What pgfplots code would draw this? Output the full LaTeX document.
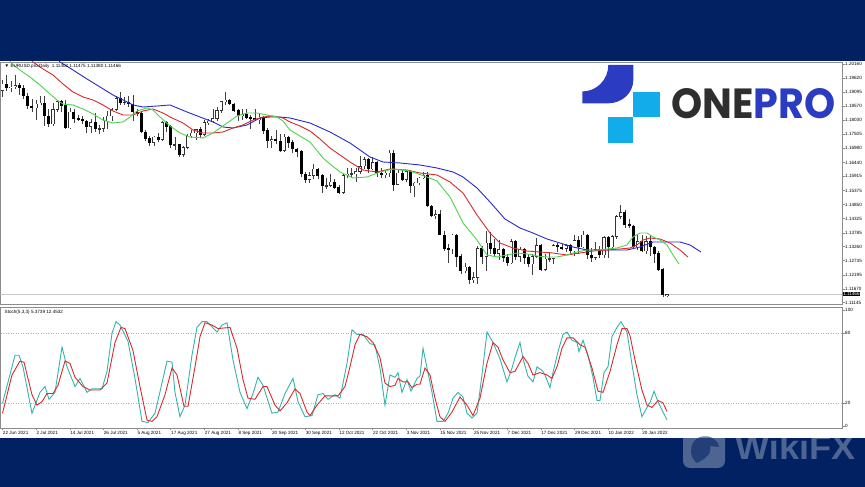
\documentclass[border=0pt]{standalone}
\usepackage{fontspec}
\setmainfont{Liberation Sans}
\newfontfamily\poppins{Poppins}
\usepackage{graphicx}
\usepackage{pgfplots}
\usepackage{pgfplotstable}
\pgfplotsset{compat=1.18}

\definecolor{navy}{HTML}{022162}
\definecolor{frame}{HTML}{8C8C8C}
\definecolor{maBlue}{HTML}{2A2ACC}
\definecolor{maRed}{HTML}{D92B2B}
\definecolor{maGreen}{HTML}{4CD44C}
\definecolor{stTeal}{HTML}{36B3AC}
\definecolor{oneBlue}{HTML}{2B3CC2}
\definecolor{oneCyan}{HTML}{12ACEB}
\definecolor{oneGray}{HTML}{2E2E2E}
\newcommand\tinyfont{\fontsize{4.6}{5}\selectfont}

\pgfplotstableread{
i o h l c
0 1.1915 1.1955 1.1890 1.1940
2 1.1925 1.1950 1.1910 1.1930
3 1.1930 1.1975 1.1920 1.1935
8 1.1850 1.1880 1.1805 1.1865
9 1.1865 1.1895 1.1860 1.1868
12 1.1790 1.1870 1.1780 1.1845
13 1.1845 1.1880 1.1835 1.1875
16 1.1775 1.1850 1.1770 1.1835
21 1.1780 1.1810 1.1755 1.1795
23 1.1770 1.1785 1.1750 1.1772
24 1.1772 1.1815 1.1760 1.1800
25 1.1800 1.1840 1.1770 1.1820
26 1.1820 1.1850 1.1800 1.1845
27 1.1845 1.1895 1.1840 1.1885
29 1.1870 1.1890 1.1860 1.1872
36 1.1720 1.1745 1.1705 1.1740
38 1.1730 1.1800 1.1725 1.1795
41 1.1710 1.1740 1.1690 1.1712
43 1.1675 1.1705 1.1665 1.1700
44 1.1700 1.1750 1.1695 1.1745
45 1.1745 1.1765 1.1735 1.1755
46 1.1755 1.1770 1.1730 1.1768
48 1.1750 1.1805 1.1745 1.1795
49 1.1795 1.1810 1.1785 1.1800
50 1.1800 1.1845 1.1795 1.1810
51 1.1810 1.1855 1.1800 1.1840
52 1.1840 1.1875 1.1830 1.1875
53 1.1875 1.1910 1.1860 1.1880
57 1.1820 1.1845 1.1805 1.1825
61 1.1805 1.1830 1.1790 1.1815
64 1.1725 1.1745 1.1700 1.1730
67 1.1690 1.1750 1.1685 1.1740
73 1.1580 1.1610 1.1565 1.1595
74 1.1595 1.1640 1.1580 1.1620
77 1.1555 1.1585 1.1545 1.1557
78 1.1557 1.1600 1.1550 1.1570
81 1.1530 1.1600 1.1525 1.1595
82 1.1595 1.1625 1.1585 1.1600
83 1.1600 1.1625 1.1590 1.1602
84 1.1602 1.1625 1.1570 1.1610
85 1.1610 1.1670 1.1600 1.1630
86 1.1630 1.1665 1.1620 1.1655
88 1.1620 1.1665 1.1615 1.1645
91 1.1600 1.1615 1.1585 1.1605
92 1.1605 1.1690 1.1590 1.1680
94 1.1560 1.1615 1.1560 1.1605
96 1.1580 1.1615 1.1570 1.1610
98 1.1555 1.1570 1.1515 1.1567
99 1.1567 1.1590 1.1560 1.1585
100 1.1585 1.1610 1.1580 1.1595
103 1.1445 1.1465 1.1430 1.1448
107 1.1318 1.1375 1.1300 1.1370
110 1.1235 1.1265 1.1225 1.1250
112 1.1200 1.1230 1.1190 1.1210
113 1.1210 1.1330 1.1185 1.1320
115 1.1290 1.1385 1.1235 1.1340
118 1.1300 1.1350 1.1275 1.1315
121 1.1265 1.1355 1.1260 1.1345
123 1.1290 1.1325 1.1270 1.1315
126 1.1260 1.1300 1.1220 1.1290
127 1.1290 1.1360 1.1285 1.1330
129 1.1240 1.1300 1.1235 1.1280
130 1.1280 1.1305 1.1270 1.1282
131 1.1282 1.1335 1.1260 1.1330
134 1.1320 1.1335 1.1305 1.1330
136 1.1310 1.1370 1.1290 1.1350
138 1.1325 1.1385 1.1320 1.1370
141 1.1285 1.1345 1.1275 1.1315
143 1.1295 1.1365 1.1285 1.1360
145 1.1325 1.1370 1.1315 1.1365
146 1.1365 1.1445 1.1355 1.1440
147 1.1440 1.1482 1.1430 1.1455
151 1.1325 1.1370 1.1315 1.1345
153 1.1310 1.1365 1.1300 1.1345
158 1.11402 1.11475 1.11380 1.11466
}\bull

\pgfplotstableread{
i o h l c
1 1.1940 1.1975 1.1915 1.1925
4 1.1935 1.1945 1.1900 1.1925
5 1.1925 1.1935 1.1885 1.1895
6 1.1895 1.1905 1.1845 1.1858
7 1.1858 1.1885 1.1835 1.1850
10 1.1868 1.1895 1.1780 1.1820
11 1.1820 1.1845 1.1780 1.1790
14 1.1875 1.1880 1.1835 1.1860
15 1.1860 1.1880 1.1770 1.1775
17 1.1835 1.1845 1.1795 1.1810
18 1.1810 1.1825 1.1800 1.1808
19 1.1808 1.1820 1.1790 1.1800
20 1.1800 1.1805 1.1755 1.1780
22 1.1795 1.1830 1.1760 1.1770
28 1.1885 1.1910 1.1860 1.1870
30 1.1872 1.1895 1.1855 1.1865
31 1.1865 1.1900 1.1800 1.1835
32 1.1835 1.1845 1.1820 1.1830
33 1.1830 1.1840 1.1755 1.1760
34 1.1760 1.1765 1.1725 1.1735
35 1.1735 1.1745 1.1705 1.1720
37 1.1740 1.1755 1.1720 1.1730
39 1.1795 1.1800 1.1760 1.1780
40 1.1780 1.1785 1.1700 1.1710
42 1.1712 1.1715 1.1665 1.1675
47 1.1768 1.1780 1.1735 1.1750
54 1.1880 1.1885 1.1860 1.1865
55 1.1865 1.1870 1.1835 1.1840
56 1.1840 1.1845 1.1800 1.1820
58 1.1825 1.1845 1.1810 1.1815
59 1.1815 1.1825 1.1770 1.1810
60 1.1810 1.1845 1.1800 1.1805
62 1.1815 1.1820 1.1750 1.1765
63 1.1765 1.1775 1.1700 1.1725
65 1.1730 1.1765 1.1715 1.1725
66 1.1725 1.1750 1.1685 1.1690
68 1.1740 1.1745 1.1700 1.1720
69 1.1720 1.1730 1.1680 1.1695
70 1.1695 1.1700 1.1665 1.1685
71 1.1685 1.1690 1.1590 1.1600
72 1.1600 1.1610 1.1565 1.1580
75 1.1620 1.1625 1.1580 1.1595
76 1.1595 1.1600 1.1530 1.1555
79 1.1570 1.1580 1.1545 1.1550
80 1.1550 1.1560 1.1525 1.1530
87 1.1655 1.1660 1.1605 1.1620
89 1.1645 1.1650 1.1590 1.1605
90 1.1605 1.1625 1.1585 1.1600
93 1.1680 1.1690 1.1535 1.1560
95 1.1605 1.1615 1.1575 1.1580
97 1.1610 1.1615 1.1530 1.1555
101 1.1595 1.1610 1.1475 1.1480
102 1.1480 1.1485 1.1440 1.1445
104 1.1448 1.1465 1.1370 1.1370
105 1.1370 1.1385 1.1310 1.1320
106 1.1320 1.1335 1.1265 1.1318
108 1.1370 1.1375 1.1250 1.1290
109 1.1290 1.1300 1.1225 1.1235
111 1.1250 1.1255 1.1185 1.1200
114 1.1320 1.1330 1.1260 1.1290
116 1.1340 1.1380 1.1300 1.1320
117 1.1320 1.1355 1.1290 1.1300
119 1.1315 1.1320 1.1270 1.1285
120 1.1285 1.1300 1.1255 1.1265
122 1.1345 1.1350 1.1275 1.1290
124 1.1315 1.1320 1.1260 1.1285
125 1.1285 1.1300 1.1250 1.1260
128 1.1330 1.1335 1.1235 1.1240
132 1.1330 1.1340 1.1305 1.1325
133 1.1325 1.1335 1.1315 1.1320
135 1.1330 1.1335 1.1300 1.1310
137 1.1350 1.1365 1.1300 1.1325
139 1.1370 1.1375 1.1280 1.1295
140 1.1295 1.1320 1.1270 1.1285
142 1.1315 1.1330 1.1285 1.1295
144 1.1360 1.1365 1.1285 1.1325
148 1.1455 1.1465 1.1395 1.1410
149 1.1410 1.1430 1.1395 1.1405
150 1.1405 1.1410 1.1320 1.1325
152 1.1345 1.1370 1.1305 1.1310
154 1.1345 1.1370 1.1290 1.1325
155 1.1325 1.1330 1.1265 1.1300
156 1.1300 1.1310 1.1235 1.1240
157 1.1240 1.1245 1.1135 1.1145
}\bear

\pgfplotsset{mt4/.style={
  scale only axis, width=841.5pt, xmin=-0.475, xmax=199.6,
  axis line style={draw=frame, line width=0.6pt},
  tick style={draw=frame, line width=0.5pt},
  tick align=outside, major tick length=2.5pt,
  ytick pos=right, scaled y ticks=false,
  yticklabel style={font=\tinyfont, anchor=west, inner sep=0.5pt},
  clip mode=individual},
  errs/.style={draw=none, mark=none, error bars/.cd, y dir=both, y explicit, error mark=none}}

\begin{document}
\begin{tikzpicture}
\useasboundingbox (0pt,0pt) rectangle (865pt,487pt);
\fill[white] (0pt,0pt) rectangle (865pt,487pt);
\fill[navy] (0pt,426pt) rectangle (865pt,487pt);
\fill[navy] (0pt,0pt) rectangle (865pt,49pt);

% ---------------- price panel ----------------
\begin{axis}[mt4, at={(0.5pt,183pt)}, anchor=south west, height=242pt,
  ymin=1.110976, ymax=1.202355, xtick=\empty,
  ytick={1.20160,1.19620,1.19095,1.18570,1.18030,1.17505,1.16980,1.16440,1.15915,1.15375,1.14850,1.14325,1.13785,1.13260,1.12735,1.12195,1.11670,1.11145},
  yticklabels={1.20160,1.19620,1.19095,1.18570,1.18030,1.17505,1.16980,1.16440,1.15915,1.15375,1.14850,1.14325,1.13785,1.13260,1.12735,1.12195,1.11670,1.11145}]

\addplot[draw=black!22, line width=0.5pt] coordinates {(-1,1.11466) (201,1.11466)};

% wicks
\addplot[errs, error bar style={draw=black!75, line width=0.55pt}]
  table[x=i, y expr=(\thisrow{h}+\thisrow{l})/2, y error expr=(\thisrow{h}-\thisrow{l})/2] {\bull};
\addplot[errs, error bar style={draw=black!75, line width=0.55pt}]
  table[x=i, y expr=(\thisrow{h}+\thisrow{l})/2, y error expr=(\thisrow{h}-\thisrow{l})/2] {\bear};
% bear bodies
\addplot[errs, error bar style={draw=black, line width=3pt}]
  table[x=i, y expr=(\thisrow{o}+\thisrow{c})/2, y error expr={abs(\thisrow{o}-\thisrow{c})/2+0.0001}] {\bear};
% bull bodies: outline then white interior
\addplot[errs, error bar style={draw=black!80, line width=3.1pt}]
  table[x=i, y expr=(\thisrow{o}+\thisrow{c})/2, y error expr={abs(\thisrow{o}-\thisrow{c})/2+0.0001}] {\bull};
\addplot[errs, error bar style={draw=white, line width=2.1pt}]
  table[x=i, y expr=(\thisrow{o}+\thisrow{c})/2, y error expr={max(abs(\thisrow{o}-\thisrow{c})/2-0.0001,0)}] {\bull};

% Alligator lines
\addplot[draw=maBlue, line width=0.9pt, mark=none] coordinates {
(12.48,1.20462) (13.67,1.20236) (16.76,1.19933) (20.09,1.19594) (23.18,1.19292) (26.27,1.18989) (28.65,1.18801) (31.03,1.18612) (33.40,1.18536) (36.73,1.18574) (39.82,1.18612) (43.87,1.18348) (46.96,1.18159) (50.05,1.17970) (52.43,1.17781) (54.80,1.17743) (58.13,1.17857) (61.22,1.18121) (63.60,1.18159) (65.98,1.18159) (68.35,1.18121) (73.11,1.17932) (77.86,1.17592) (82.62,1.17177) (87.37,1.16648) (90.47,1.16460) (94.51,1.16422) (99.26,1.16346) (103.30,1.16233) (107.11,1.16082) (109.49,1.15893) (112.82,1.15478) (115.91,1.14949) (119.47,1.14307) (123.04,1.13967) (126.13,1.13778) (129.46,1.13552) (132.55,1.13401) (135.64,1.13250) (138.97,1.13137) (142.06,1.13137) (145.15,1.13137) (148.48,1.13137) (151.57,1.13250) (154.66,1.13439) (157.99,1.13439) (161.08,1.13439) (163.46,1.13325) (166.07,1.13061)};
\addplot[draw=maRed, line width=0.9pt, mark=none] coordinates {
(6.06,1.20500) (7.25,1.20236) (9.63,1.19971) (12.01,1.19745) (14.38,1.19405) (16.76,1.19103) (19.14,1.18914) (21.52,1.18801) (23.89,1.18612) (26.27,1.18385) (28.65,1.18234) (31.03,1.18234) (33.40,1.18385) (35.78,1.18461) (38.16,1.18310) (39.83,1.18159) (42.91,1.17932) (45.29,1.17668) (47.67,1.17555) (50.05,1.17555) (52.43,1.17592) (54.80,1.17743) (57.18,1.17857) (59.56,1.18045) (61.94,1.18159) (64.31,1.18196) (66.69,1.18121) (68.35,1.17970) (70.73,1.17819) (73.11,1.17630) (75.49,1.17328) (77.86,1.16988) (80.24,1.16724) (82.62,1.16460) (85.71,1.16157) (89.04,1.16082) (92.13,1.16195) (96.17,1.16157) (99.26,1.16044) (103.30,1.15969) (106.40,1.15704) (109.49,1.15289) (112.82,1.14458) (115.91,1.13778) (118.28,1.13401) (121.37,1.13212) (124.70,1.13099) (127.79,1.13061) (130.88,1.13023) (134.21,1.12948) (137.31,1.13023) (140.40,1.13099) (143.72,1.13137) (146.81,1.13174) (149.19,1.13212) (150.85,1.13325) (152.28,1.13514) (153.94,1.13589) (156.32,1.13552) (158.70,1.13401) (161.08,1.13137) (162.98,1.12872)};
\addplot[draw=maGreen, line width=0.9pt, mark=none] coordinates {
(1.31,1.20387) (2.26,1.20160) (4.16,1.19933) (6.54,1.19669) (8.92,1.19367) (11.29,1.19027) (12.96,1.18801) (14.38,1.18650) (16.76,1.18612) (19.14,1.18461) (21.52,1.18272) (23.89,1.18045) (26.27,1.17932) (28.65,1.17970) (30.31,1.18159) (31.98,1.18385) (34.36,1.18499) (35.78,1.18423) (37.45,1.18159) (39.83,1.17819) (42.20,1.17555) (44.58,1.17403) (47.67,1.17366) (50.05,1.17555) (53.38,1.17932) (55.76,1.18196) (58.13,1.18310) (60.51,1.18310) (62.89,1.18234) (65.26,1.18159) (66.69,1.18008) (68.35,1.17668) (70.73,1.17441) (73.11,1.17215) (76.20,1.16611) (77.86,1.16384) (80.24,1.16082) (83.33,1.15856) (86.66,1.15893) (89.75,1.16082) (92.84,1.16195) (96.89,1.16120) (100.93,1.15893) (103.30,1.15742) (106.40,1.15138) (109.49,1.14156) (112.82,1.13514) (115.19,1.12948) (117.57,1.12872) (119.95,1.12948) (122.33,1.13023) (124.70,1.12986) (127.08,1.12910) (129.46,1.12872) (131.84,1.12872) (134.21,1.12948) (136.59,1.13061) (138.97,1.13137) (141.35,1.13137) (143.72,1.13174) (146.10,1.13212) (148.48,1.13325) (149.90,1.13627) (151.57,1.13778) (153.23,1.13778) (154.66,1.13627) (156.32,1.13514) (157.99,1.13325) (159.42,1.12948) (160.84,1.12608)};

\node[anchor=north west, font=\tinyfont, inner sep=0pt, xshift=4pt, yshift=-2pt] at (rel axis cs:0,1) {▼ EURUSD.pro,Daily\ \ 1.11402 1.11475 1.11380 1.11466};
\node[anchor=west, fill=black, text=white, font=\tinyfont, inner sep=0.6pt, xshift=0.5pt] at (axis cs:199.6,1.11466) {1.11466};
\end{axis}

% ---------------- stochastic panel ----------------
\begin{axis}[mt4, at={(0.5pt,59pt)}, anchor=south west, height=121pt,
  ymin=-1.72, ymax=102.6,
  ytick={0,20,80,100}, yticklabels={0,20,80,100},
  xtick={0,8,...,152}, xtick pos=left,
  xticklabels={22 Jun 2021,2 Jul 2021,14 Jul 2021,26 Jul 2021,5 Aug 2021,17 Aug 2021,27 Aug 2021,8 Sep 2021,20 Sep 2021,30 Sep 2021,12 Oct 2021,22 Oct 2021,3 Nov 2021,15 Nov 2021,25 Nov 2021,7 Dec 2021,17 Dec 2021,29 Dec 2021,10 Jan 2022,20 Jan 2022},
  xticklabel style={font=\tinyfont, anchor=north west, inner sep=0pt, xshift=0.3pt, yshift=-0.6pt}]
\addplot[draw=black!30, dotted, line width=0.5pt] coordinates {(-1,20) (201,20)};
\addplot[draw=black!30, dotted, line width=0.5pt] coordinates {(-1,80) (201,80)};
\addplot[draw=stTeal, line width=0.9pt, mark=none] coordinates {
(0,19.5) (2.97,61) (3.92,61) (4.87,51) (7.01,11) (8.92,29) (10.10,34) (11.06,23) (12.48,29) (14.15,68) (15.34,51) (17.24,34) (18.43,41) (20.09,29) (21.28,32) (23.66,32) (24.85,47) (26.04,80) (26.99,90) (27.94,87) (29.84,73) (31.50,41) (33.17,4) (34.59,3) (36.26,11) (37.92,37) (39.11,56) (40.30,55) (41.01,29) (42.20,8) (43.39,18) (45.05,61) (46.24,85) (47.43,90) (48.62,90) (50.99,81) (52.19,87) (53.38,89) (54.80,57) (56.47,29) (58.13,15) (59.56,28) (60.75,42) (61.94,35) (64.07,11) (65.50,12) (67.17,28) (69.07,41) (70.26,21) (71.92,8) (73.59,9) (75.01,27) (76.20,28) (77.39,23) (79.05,27) (80.24,24) (81.91,54) (83.10,83) (84.29,79) (85.71,79) (87.37,71) (88.56,70) (89.75,50) (90.94,18) (92.13,44) (93.32,42) (94.03,46) (94.98,29) (96.17,40) (97.12,30) (98.55,41) (99.26,43) (99.98,67) (101.16,46) (102.12,29) (103.30,4) (104.73,4) (105.92,11) (107.11,24) (108.30,29) (109.49,25) (110.44,11) (111.63,7) (112.82,11) (114.00,44) (115.19,81) (116.62,72) (118.28,58) (119.95,38) (121.14,50) (121.86,59) (123.04,72) (123.76,58) (124.94,43) (126.13,38) (127.08,51) (128.27,48) (128.98,44) (130.17,33) (130.88,46) (132.07,64) (133.26,79) (134.21,81) (135.40,74) (136.59,72) (137.07,64) (138.02,74) (139.21,61) (140.40,42) (141.35,22) (142.06,22) (143.01,46) (143.96,51) (144.91,77) (146.10,85) (147.05,90) (148.48,81) (149.67,53) (150.85,27) (152.04,8) (153.23,16) (153.94,20) (154.90,30) (155.85,21) (157.04,12) (157.99,5.4)};
\addplot[draw=maRed, line width=0.9pt, mark=none] coordinates {
(0,11) (2.26,44) (4.16,56) (5.11,55) (7.01,27) (8.20,18) (9.39,21) (10.58,28) (12.01,28) (13.20,35) (14.86,56) (16.05,54) (17.24,42) (19.14,34) (20.80,31) (23.18,31) (24.85,37) (26.75,72) (28.17,85) (29.12,84) (31.03,65) (32.69,34) (34.36,5) (35.54,4) (36.73,8) (38.64,27) (40.30,50) (41.49,44) (43.15,17) (44.11,17) (45.77,51) (46.96,77) (48.15,89) (49.81,87) (51.24,84) (54.09,85) (55.76,67) (57.18,40) (58.37,24) (60.03,23) (61.94,34) (62.89,34) (64.79,18) (65.98,13) (67.64,20) (69.55,32) (70.73,28) (72.40,12) (73.11,9) (74.78,18) (76.68,26) (78.58,26) (79.77,26) (81.43,34) (82.62,51) (83.81,70) (85.00,79) (86.66,77) (88.09,72) (89.75,59) (90.94,37) (92.13,34) (93.32,35) (94.03,41) (95.22,38) (96.41,38) (97.36,33) (98.55,36) (99.26,36) (100.45,50) (101.64,44) (102.83,24) (104.01,8) (105.21,4) (106.87,12) (108.77,25) (110.44,18) (111.87,9) (113.53,24) (115.19,54) (116.62,72) (117.81,68) (118.99,57) (120.66,46) (121.84,47) (123.76,60) (124.94,54) (126.13,44) (127.79,46) (129.46,44) (130.64,41) (131.84,51) (133.02,67) (134.21,76) (135.64,76) (137.31,70) (138.50,68) (140.16,50) (141.59,30) (142.78,29) (144.44,47) (146.10,70) (147.29,84) (148.48,84) (149.19,78) (150.38,57) (152.04,31) (153.23,18) (154.42,16) (155.85,22) (157.04,20) (157.99,12.5)};
\node[anchor=north west, font=\tinyfont, inner sep=0pt, xshift=4pt, yshift=-2.5pt] at (rel axis cs:0,1) {Stoch(5,3,3) 5.3739 12.4532};
\end{axis}

% ---------------- ONEPRO logo ----------------
\fill[oneBlue] (608.3pt,422pt) -- (633.3pt,422pt) -- (633.3pt,407pt)
  arc[start angle=0, end angle=-90, x radius=25pt, y radius=23.3pt]
  -- (582.3pt,383.7pt) -- (582.3pt,395.5pt)
  arc[start angle=-90, end angle=0, x radius=26pt, y radius=26.5pt] -- cycle;
\fill[oneCyan] (633.3pt,370.3pt) rectangle (660pt,394.7pt);
\fill[oneCyan] (608.3pt,344.3pt) rectangle (633.3pt,369.7pt);
\node[anchor=south west, inner sep=0pt] at (671pt,367.7pt) {\resizebox{164pt}{30pt}{\poppins\bfseries\textcolor{oneGray}{ONE}\textcolor{oneBlue}{PRO}}};

% ---------------- WikiFX watermark ----------------
\fill[white, opacity=0.3, rounded corners=7pt] (683pt,19pt) rectangle (725pt,55pt);
\fill[navy, opacity=0.55] (697pt,24pt) .. controls (688pt,30pt) and (689pt,46pt) .. (700pt,50pt) .. controls (710pt,53pt) and (718pt,47pt) .. (719pt,40pt) -- (710pt,41pt) .. controls (712pt,33pt) and (705pt,28pt) .. (697pt,24pt) -- cycle;
\node[anchor=south west, inner sep=0pt, text=white, text opacity=0.3] at (735pt,27pt) {\resizebox{120pt}{25pt}{\bfseries WikiFX}};
\end{tikzpicture}
\end{document}
